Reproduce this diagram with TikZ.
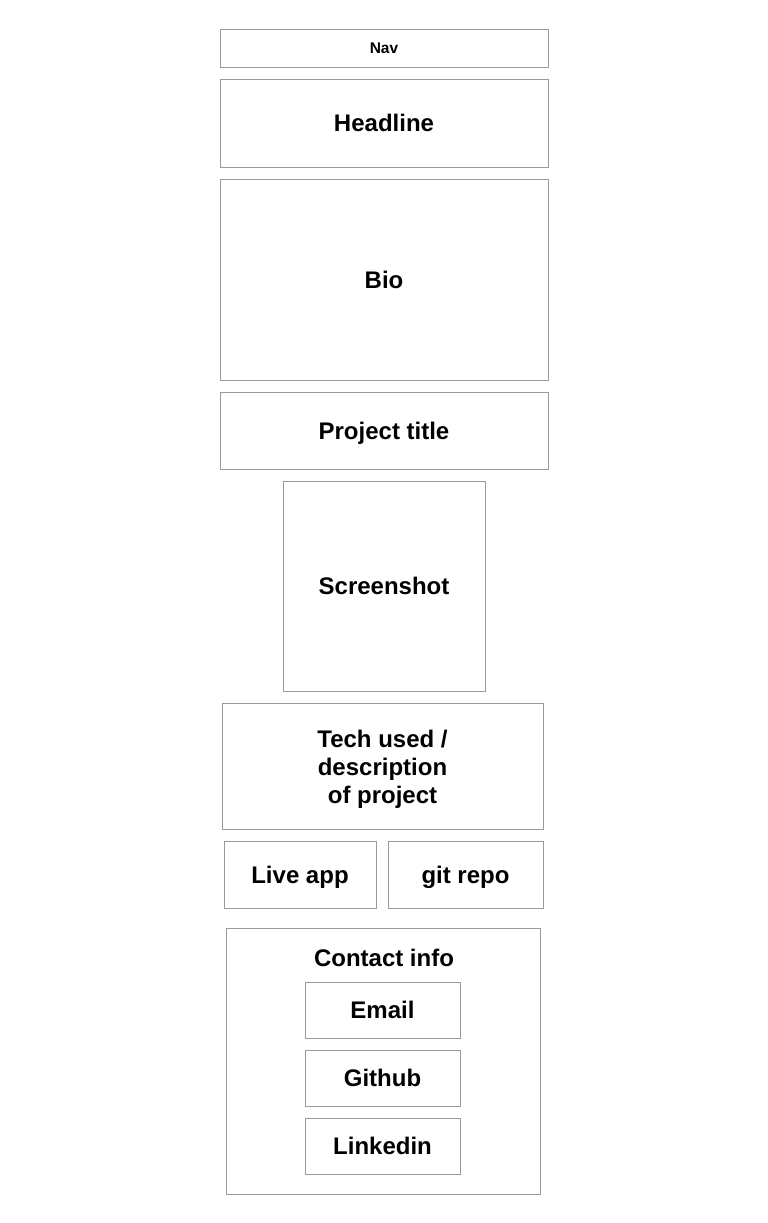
\documentclass[tikz,border=0pt]{standalone}
\usepackage{fontspec}
\setmainfont{Liberation Sans}
\usepackage{tikz}

\begin{document}
\begin{tikzpicture}[x=1pt,y=-1pt,
	every node/.style={font=\bfseries\fontsize{24}{28}\selectfont, align=center, inner sep=0pt, outer sep=0pt, text height=17.2, text depth=0},
	wire/.style={draw=black!40, line width=0.9pt, rectangle}]
	\useasboundingbox (0,0) rectangle (768,1223);
	% page sections
	\node[wire, minimum width=328, minimum height=38, font=\bfseries\fontsize{15.5}{18}\selectfont, text height=11.1] (nav) at (384,48) {Nav};
	\node[wire, minimum width=328, minimum height=88] (headline) at (384,123) {Headline};
	\node[wire, minimum width=328, minimum height=201] (bio) at (384,279.5) {Bio};
	\node[wire, minimum width=328, minimum height=77] (title) at (384,430.5) {Project title};
	\node[wire, minimum width=202, minimum height=210] (shot) at (384,586) {Screenshot};
	\node[wire, minimum width=321, minimum height=126,
		label={[text height=, text depth=, yshift=-3.5pt]center:{Tech used /\\description\\of project}}] (tech) at (382.5,766) {};
	\node[wire, minimum width=152, minimum height=67] (live) at (300,874.5) {Live app};
	\node[wire, minimum width=155, minimum height=67] (repo) at (465.5,874.5) {git repo};
	% contact block
	\node[wire, minimum width=314, minimum height=266] (contact) at (383,1061) {};
	\node (contacttext) at (384,958) {Contact info};
	\foreach \y/\s/\n in {1010/Email/email, 1078/Github/github, 1146/Linkedin/linkedin} {
		\node[wire, minimum width=155, minimum height=56] (\n) at (382.5,\y) {\s};
	}
\end{tikzpicture}
\end{document}
